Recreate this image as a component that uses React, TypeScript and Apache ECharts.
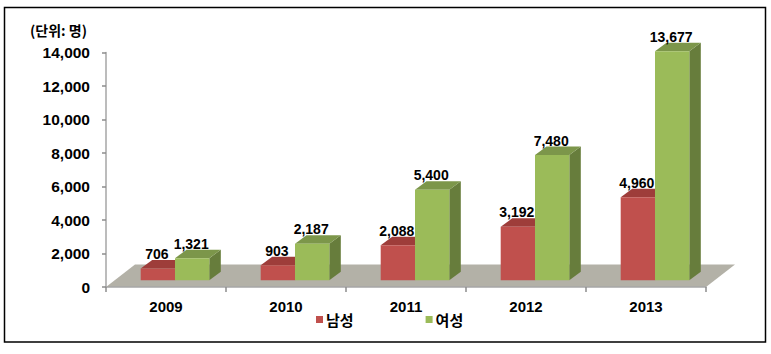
import React, { useEffect, useRef } from "react";
import * as echarts from "echarts";

const years = ["2009", "2010", "2011", "2012", "2013"];
const male = [706, 903, 2088, 3192, 4960];
const female = [1321, 2187, 5400, 7480, 13677];
const yTicks = { min: 0, max: 14000, interval: 2000 };
const unitLabel = "(단위: 명)";
const maleName = "남성";
const femaleName = "여성";

const BAR_W = 34.3;
const DX = 11.5;
const DY = 8.5;
const LIFT = 6.7;
const BAR_SHIFT = 9;
const LATIN = "'Liberation Sans', Arial, sans-serif";
const KR = "'Noto Sans CJK KR', sans-serif";

function bar3d(offset: number, front: string, top: string, side: string) {
  return (params: any, api: any) => {
    const idx = api.value(0);
    const val = api.value(1);
    const [cx] = api.coord([idx, 0]);
    const yBase = api.coord([idx, 0])[1] - LIFT;
    const yTop = api.coord([idx, val])[1] - LIFT;
    const x0 = cx + BAR_SHIFT + offset * BAR_W;
    const x1 = x0 + BAR_W;
    return {
      type: "group",
      children: [
        {
          type: "polygon",
          shape: { points: [[x1, yBase], [x1 + DX, yBase - DY], [x1 + DX, yTop - DY], [x1, yTop]] },
          style: { fill: side },
        },
        {
          type: "polygon",
          shape: { points: [[x0, yTop], [x0 + DX, yTop - DY], [x1 + DX, yTop - DY], [x1, yTop]] },
          style: { fill: top },
        },
        { type: "rect", shape: { x: x0, y: yTop, width: BAR_W, height: yBase - yTop }, style: { fill: front } },
        {
          type: "text",
          x: (x0 + x1) / 2 - 1,
          y: yTop - DY - 6,
          style: {
            text: Number(val).toLocaleString("en-US"),
            fill: "#000",
            font: `bold 14px ${LATIN}`,
            align: "center",
            verticalAlign: "middle",
          },
        },
      ],
    };
  };
}

function floor(params: any) {
  const c = params.coordSys;
  const yb = c.y + c.height;
  const d = 29;
  const h = 22.5;
  return {
    type: "polygon",
    shape: {
      points: [[c.x, yb], [c.x + c.width, yb], [c.x + c.width + d, yb - h], [c.x + d, yb - h]],
    },
    style: { fill: "#B3B1A7" },
  };
}

export default function App() {
  const ref = useRef<HTMLDivElement>(null);
  useEffect(() => {
    const chart = echarts.init(ref.current!, undefined, { renderer: "svg" });
    chart.setOption({
      animation: false,
      backgroundColor: "#fff",
      grid: { left: 106, right: 65, top: 52.5, bottom: 67 },
      title: {
        text: unitLabel,
        left: 25,
        top: 18,
        textStyle: { fontFamily: KR, fontSize: 14, fontWeight: "bold", color: "#000" },
      },
      legend: {
        left: 311,
        top: 307,
        itemWidth: 7,
        itemHeight: 7,
        itemGap: 72,
        icon: "rect",
        textStyle: { fontFamily: KR, fontSize: 15, fontWeight: "bold", color: "#000", padding: [0, 0, 0, -2] },
        data: [maleName, femaleName],
      },
      xAxis: {
        type: "category",
        data: years,
        z: 5,
        axisLine: { lineStyle: { color: "#A6A6A6", width: 1.5 } },
        axisTick: { show: true, length: 5, lineStyle: { color: "#8C8C8C", width: 1.5 } },
        axisLabel: { margin: 12, fontFamily: LATIN, fontSize: 15, fontWeight: "bold", color: "#000" },
      },
      yAxis: {
        type: "value",
        min: yTicks.min,
        max: yTicks.max,
        interval: yTicks.interval,
        z: 5,
        splitLine: { show: false },
        axisLine: { show: true, lineStyle: { color: "#A6A6A6", width: 1.5 } },
        axisTick: { show: true, length: 4, lineStyle: { color: "#8C8C8C", width: 1.5 } },
        axisLabel: {
          margin: 16,
          fontFamily: LATIN,
          fontSize: 15.5,
          fontWeight: "bold",
          color: "#000",
          formatter: (v: number) => v.toLocaleString("en-US"),
        },
      },
      series: [
        {
          type: "custom",
          name: "floor",
          z: 1,
          silent: true,
          renderItem: floor,
          data: [[0, 0]],
          encode: { x: 0, y: 1 },
        },
        {
          type: "custom",
          name: maleName,
          z: 2,
          itemStyle: { color: "#C0504D" },
          renderItem: bar3d(-1, "#C0504D", "#9E3D3A", "#8C3836"),
          data: male.map((v, i) => [i, v]),
          encode: { x: 0, y: 1 },
        },
        {
          type: "custom",
          name: femaleName,
          z: 3,
          itemStyle: { color: "#9BBB59" },
          renderItem: bar3d(0, "#9BBB59", "#7C964A", "#677D3C"),
          data: female.map((v, i) => [i, v]),
          encode: { x: 0, y: 1 },
        },
      ],
      graphic: [
        {
          type: "rect",
          z: 100,
          shape: { x: 4.5, y: 7.5, width: 761, height: 334.5 },
          style: { fill: "none", stroke: "#000", lineWidth: 1.5 },
        },
      ],
    });
    return () => chart.dispose();
  }, []);
  return <div ref={ref} style={{ position: "absolute", left: 0, top: 0, width: 771, height: 354 }} />;
}
